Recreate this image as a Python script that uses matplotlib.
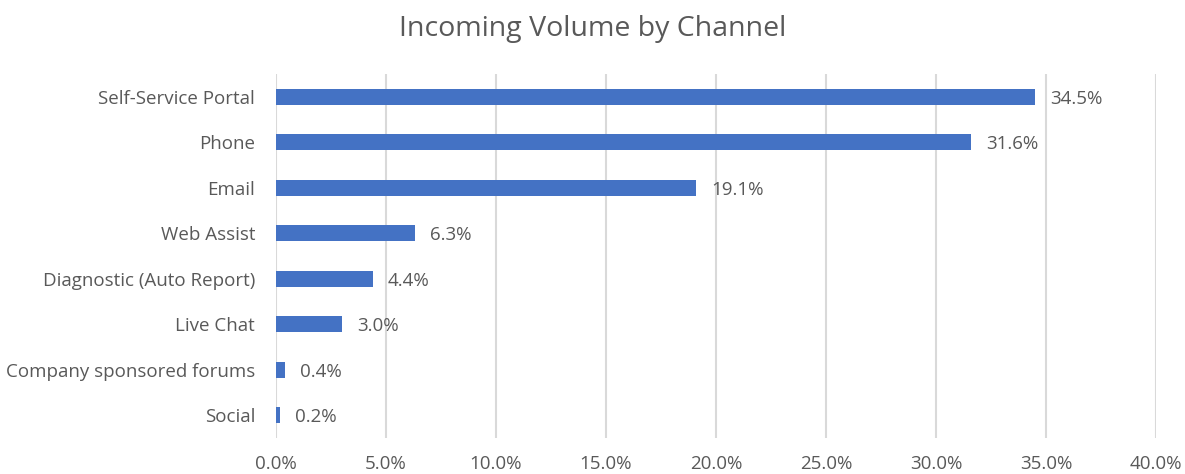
import matplotlib
matplotlib.use("Agg")
from matplotlib import pyplot as plt
from matplotlib.ticker import FuncFormatter, MultipleLocator

channels = ["Self-Service Portal", "Phone", "Email", "Web Assist",
            "Diagnostic (Auto Report)", "Live Chat",
            "Company sponsored forums", "Social"]
share = [34.5, 31.6, 19.1, 6.3, 4.4, 3.0, 0.4, 0.2]

plt.rcParams['font.family'] = ['Open Sans', 'DejaVu Sans']
text_col = "#595959"

fig = plt.figure(figsize=(11.85, 4.74), dpi=100)
ax = fig.add_axes([0.2329, 0.0759, 0.7426, 0.768])

ypos = list(range(len(channels)))
ax.barh(ypos, share, height=0.36, color="#4472C4", zorder=3)
for y, v in zip(ypos, share):
    ax.text(v + 0.68, y + 0.04, f"{v:.1f}%", va="center", ha="left",
            fontsize=13.5, color=text_col)

ax.set_xlim(0, 40)
ax.set_ylim(len(channels) - 0.5, -0.5)
ax.set_yticks(ypos)
ax.set_yticklabels(channels)
ax.xaxis.set_major_locator(MultipleLocator(5))
ax.xaxis.set_major_formatter(FuncFormatter(lambda x, _: f"{x:.1f}%"))
ax.tick_params(axis="both", length=0, labelsize=13.5, colors=text_col)
ax.tick_params(axis="x", pad=12)
ax.tick_params(axis="y", pad=15)
ax.grid(axis="x", color="#D9D9D9", linewidth=1.5, zorder=0)
for s in ax.spines.values():
    s.set_visible(False)

fig.text(0.5, 0.938, "Incoming Volume by Channel", ha="center", va="center",
         fontsize=20.5, color=text_col)

fig.savefig("out.png", dpi=100)
